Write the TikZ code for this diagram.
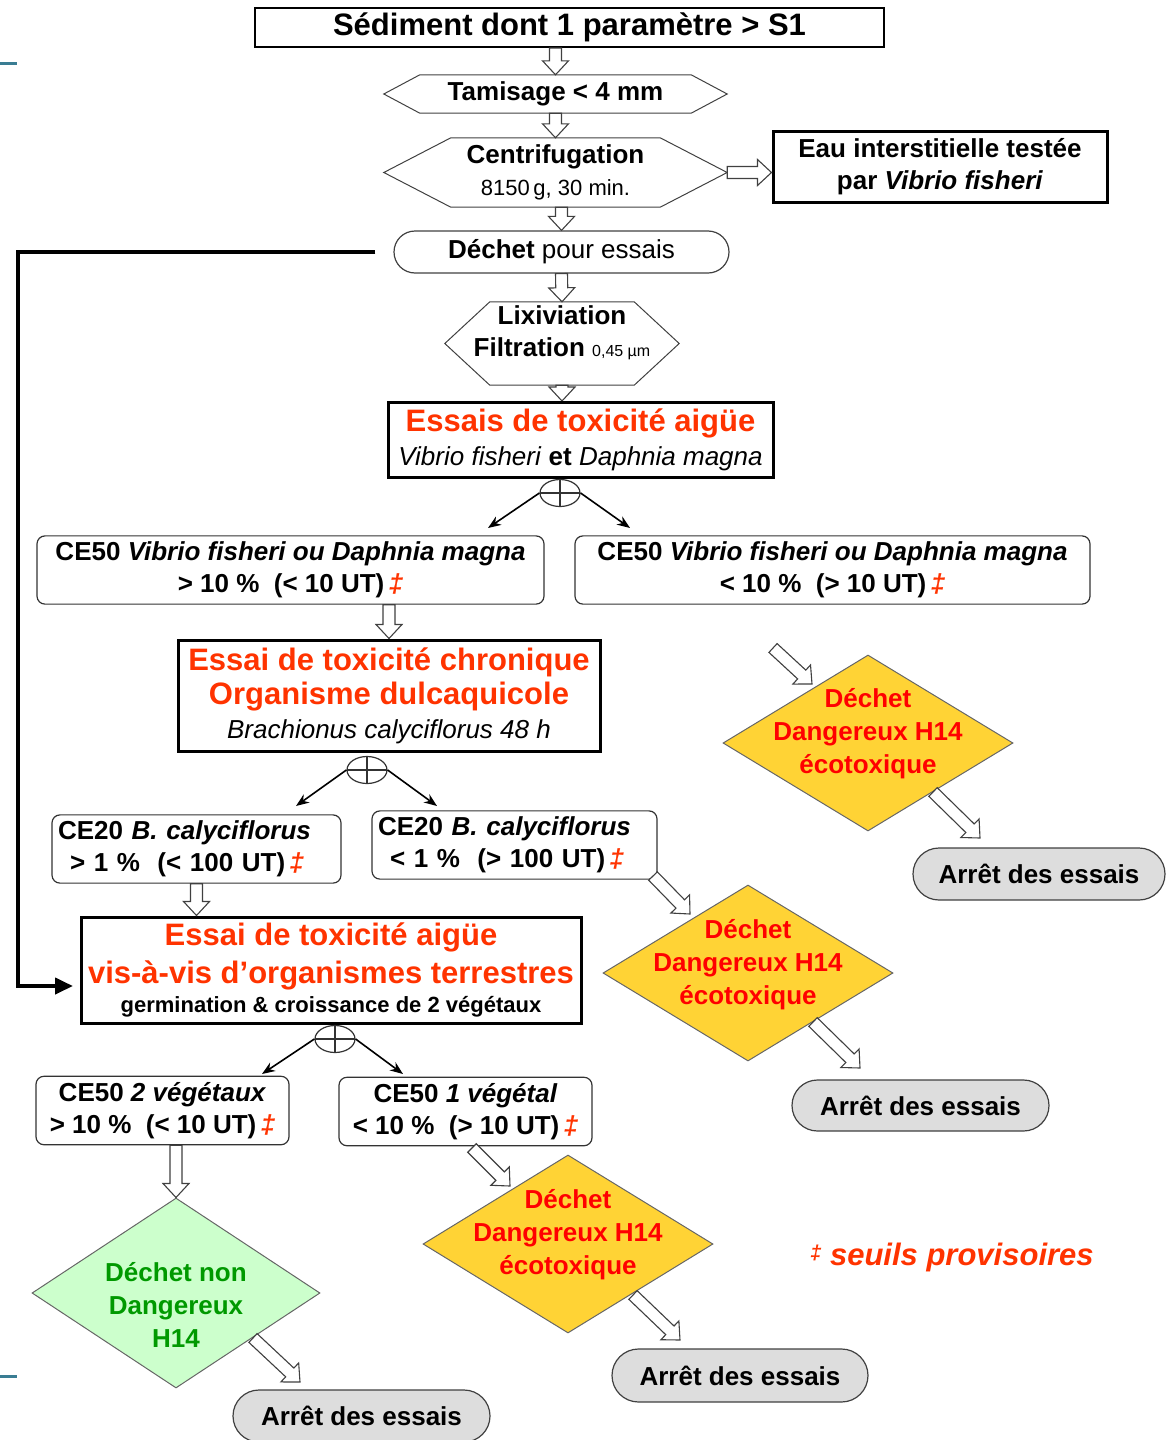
\documentclass[tikz,border=0pt]{standalone}
\usepackage{fontspec}
\setmainfont{Liberation Sans}
\usetikzlibrary{calc,arrows.meta,shapes.geometric,shapes.misc,positioning}

\definecolor{hred}{HTML}{FF3300}
\definecolor{dred}{HTML}{FF0000}
\definecolor{dyellow}{HTML}{FFD335}
\definecolor{dgfill}{HTML}{CCFFCC}
\definecolor{dgtext}{HTML}{009900}
\definecolor{stopgrey}{HTML}{DDDDDD}
\definecolor{markteal}{HTML}{3A7D93}

\newcommand\fsz[2]{\fontsize{#1}{#2}\selectfont}
\newcommand\thr{\textcolor{hred}{\,\textit{‡}}}

% hollow block arrow from #1 to #2
\newcommand\blockarrow[2]{%
  \coordinate (ba) at ($(#2)!14pt!(#1)$);
  \draw[hollow] ($(#1)!6pt!90:(#2)$) -- ($(ba)!6pt!90:(#2)$) -- ($(ba)!13pt!90:(#2)$)
    -- (#2) -- ($(ba)!13pt!-90:(#2)$) -- ($(ba)!6pt!-90:(#2)$) -- ($(#1)!6pt!-90:(#2)$) -- cycle;}

% hexagon round a node, #2 = slant
\newcommand\hexframe[2]{%
  \draw[hexline] (#1.west) -- ([xshift=#2]#1.north west) -- ([xshift=-#2]#1.north east)
    -- (#1.east) -- ([xshift=-#2]#1.south east) -- ([xshift=#2]#1.south west) -- cycle;}

\tikzset{
  titlebox/.style={draw, line width=2, minimum width=629, minimum height=39, inner sep=0, font=\fsz{31}{36}\bfseries},
  hexline/.style={draw=black!75, line width=1},
  hexbox/.style={inner sep=0, align=center, font=\fsz{26}{32}\bfseries},
  headbox/.style={draw, line width=3, inner sep=0, align=center},
  cebox/.style={draw=black!80, line width=1.2, rounded corners=8, inner sep=6, align=center, font=\fsz{26}{32}\bfseries},
  stopbox/.style={rounded rectangle, draw=black!75, line width=1.2, fill=stopgrey, inner sep=0, font=\fsz{26}{30}\bfseries},
  dangerbox/.style={diamond, draw=black!60, line width=1, fill=dyellow, inner sep=0},
  dangertext/.style={align=center, text=dred, font=\fsz{26}{33}\bfseries},
  oplus/.style={ellipse, draw=black!80, line width=1.2, minimum width=40, minimum height=27, inner sep=0,
    path picture={\draw[line width=1.2] (path picture bounding box.north) -- (path picture bounding box.south)
      (path picture bounding box.west) -- (path picture bounding box.east);}},
  hollow/.style={draw=black!75, line width=1.1, fill=white, line join=miter},
  thinarrow/.style={line width=1.6, -{Stealth[length=13pt,width=10pt]}},
  loopline/.style={line width=4, -{Triangle[length=18pt,width=16pt]}},
  tealmark/.style={draw=markteal, line width=3},
}

\begin{document}
\begin{tikzpicture}[x=1pt,y=-1pt]
\useasboundingbox (0,0) rectangle (1166,1440);

% slide marks
\draw[tealmark] (0,63) -- (17,63);
\draw[tealmark] (0,1376) -- (17,1376);

% top of the chain
\node[titlebox] (sed) at (569.5,27.5) {Sédiment dont 1 paramètre > S1};
\node[hexbox, minimum width=343, minimum height=38] (tam) at (555.5,94) {Tamisage < 4 mm};
\hexframe{tam}{36}
\node[hexbox, minimum width=343, minimum height=69] (cen) at (555.5,172.5)
  {Centrifugation\\{\fsz{22}{26}\mdseries 8150\,g, 30 min.}};
\hexframe{cen}{67}
\node[headbox, minimum width=334, minimum height=71, font=\fsz{26}{32}\bfseries] (eau) at (940,166.5)
  {Eau interstitielle testée\\par \textit{Vibrio fisheri}};
\node[rounded rectangle, draw=black!75, line width=1.2, minimum width=335, minimum height=42,
  inner sep=0, font=\fsz{26}{30}] (dech) at (561.5,252) {\textbf{Déchet} pour essais};
\node[minimum width=234, minimum height=83, inner sep=0] (lix) at (562,343.5) {};
\hexframe{lix}{45}
\node[hexbox] (lixtxt) at ([yshift=11]lix.center) {Lixiviation\\Filtration {\fsz{16}{20}\mdseries 0,45 µm}};

\blockarrow{tam.north |- sed.south}{tam.north}
\blockarrow{tam.south}{cen.north}
\blockarrow{dech.north |- cen.south}{dech.north}
\blockarrow{cen.east}{eau.west |- cen.east}
\blockarrow{dech.south}{lix.north}
\blockarrow{lix.south}{lix.south |- 0,401}

% acute tests
\node[headbox, minimum width=385, minimum height=75, font=\fsz{31}{34}] (aigu) at (580.5,439.5)
  {\textcolor{hred}{\bfseries Essais de toxicité aigüe}\\{\fsz{26}{30}\textit{Vibrio fisheri} \textbf{et} \textit{Daphnia magna}}};
\node[oplus] (p1) at (560,493) {};
\coordinate (p1l) at (488,528);
\coordinate (p1r) at (630,528);
\draw[thinarrow] (p1.west) -- (p1l);
\draw[thinarrow] (p1.east) -- (p1r);

\node[cebox, minimum width=507, minimum height=66] (ceL) at (290.5,570)
  {CE50 \textit{Vibrio fisheri ou Daphnia magna}\\> 10~\%~ (< 10 UT)\thr};
\node[cebox, minimum width=515, minimum height=66] (ceR) at (832.5,570)
  {CE50 \textit{Vibrio fisheri ou Daphnia magna}\\< 10~\%~ (> 10 UT)\thr};

% chronic test
\node[headbox, minimum width=422, minimum height=111, font=\fsz{31}{38}\bfseries, text=hred] (chron) at (389,695.5)
  {Essai de toxicité chronique\\[-4pt]Organisme dulcaquicole\\[-4pt]{\fsz{26}{30}\mdseries\itshape\color{black}Brachionus calyciflorus 48 h}};
\blockarrow{chron.north |- ceL.south}{chron.north}

\node[dangerbox, minimum width=290, minimum height=176] (d1) at (868,743) {};
\node[dangertext] (d1txt) at ([yshift=9]d1.center) {Déchet\\Dangereux H14\\écotoxique};
\coordinate (d1in0) at (773,648);
\coordinate (d1in) at (812,684);
\blockarrow{d1in0}{d1in}
\node[stopbox, minimum width=252, minimum height=52] (s1) at (1039,874) {Arrêt des essais};
\coordinate (d1out) at (933,792);
\coordinate (s1in) at (980,838);
\blockarrow{d1out}{s1in}

\node[oplus] (p2) at (367,770) {};
\coordinate (p2l) at (296,806);
\coordinate (p2r) at (437,806);
\draw[thinarrow] (p2.west) -- (p2l);
\draw[thinarrow] (p2.east) -- (p2r);

\node[cebox, minimum width=289, minimum height=66, text width=277, align=left] (c20L) at (196.5,849)
  {CE20 \textit{B. calyciflorus}\\\hspace*{12pt}> 1~\%~ (< 100 UT)\thr};
\node[cebox, minimum width=285, minimum height=66, text width=273, align=left] (c20R) at (514.5,845)
  {CE20 \textit{B. calyciflorus}\\\hspace*{12pt}< 1~\%~ (> 100 UT)\thr};

% terrestrial test
\node[headbox, minimum width=500, minimum height=106, font=\fsz{31}{38}\bfseries, text=hred] (terr) at (331,970)
  {Essai de toxicité aigüe\\vis-à-vis d’organismes terrestres\\[-9pt]{\fsz{22}{26}\color{black}germination \& croissance de 2 végétaux}};
\blockarrow{c20L.south}{c20L.south |- terr.north}

\coordinate (loopc) at (18,986);
\coordinate (loopend) at (73,986);
\draw[loopline] ([xshift=-18]dech.west) -| (loopc) -- (loopend);

\node[dangerbox, minimum width=290, minimum height=176] (d2) at (748,973) {};
\node[dangertext] (d2txt) at ([yshift=8]d2.center) {Déchet\\Dangereux H14\\écotoxique};
\coordinate (c20Rout) at (653,876);
\coordinate (d2in) at (690,914);
\blockarrow{c20Rout}{d2in}
\node[stopbox, minimum width=257, minimum height=51] (s2) at (920.5,1105.5) {Arrêt des essais};
\coordinate (d2out) at (813,1022);
\coordinate (s2in) at (860,1068);
\blockarrow{d2out}{s2in}

\node[oplus] (p3) at (335,1039) {};
\coordinate (p3l) at (262,1074);
\coordinate (p3r) at (403,1074);
\draw[thinarrow] (p3.west) -- (p3l);
\draw[thinarrow] (p3.east) -- (p3r);

\node[cebox, minimum width=253, minimum height=67] (c50a) at (162.5,1110.5)
  {CE50 \textit{2 végétaux}\\> 10~\%~ (< 10 UT)\thr};
\node[cebox, minimum width=253, minimum height=67] (c50b) at (465.5,1111.5)
  {CE50 \textit{1 végétal}\\< 10~\%~ (> 10 UT)\thr};

% final outcomes
\node[diamond, draw=black!60, line width=1, fill=dgfill, inner sep=0, minimum width=288, minimum height=190] (dg) at (176,1293) {};
\node[dangertext, text=dgtext] (dgtxt) at ([yshift=-12]dg.center) {Déchet non\\Dangereux\\H14};
\blockarrow{dg.north |- c50a.south}{dg.north}
\node[stopbox, minimum width=257, minimum height=52] (s3) at (361.5,1416) {Arrêt des essais};
\coordinate (dgout) at (253,1338);
\coordinate (s3in) at (300,1382);
\blockarrow{dgout}{s3in}

\node[dangerbox, minimum width=290, minimum height=178] (d3) at (568,1244) {};
\node[dangertext] (d3txt) at ([yshift=9]d3.center) {Déchet\\Dangereux H14\\écotoxique};
\coordinate (c50bout) at (472,1148);
\coordinate (d3in) at (510,1186);
\blockarrow{c50bout}{d3in}
\node[stopbox, minimum width=256, minimum height=53] (s4) at (740,1375.5) {Arrêt des essais};
\coordinate (d3out) at (633,1295);
\coordinate (s4in) at (680,1340);
\blockarrow{d3out}{s4in}

\node[font=\fsz{31}{36}\bfseries\itshape, text=hred] (note) at (952,1257) {\raisebox{6pt}{\fsz{20}{24}‡} seuils provisoires};
\end{tikzpicture}
\end{document}
